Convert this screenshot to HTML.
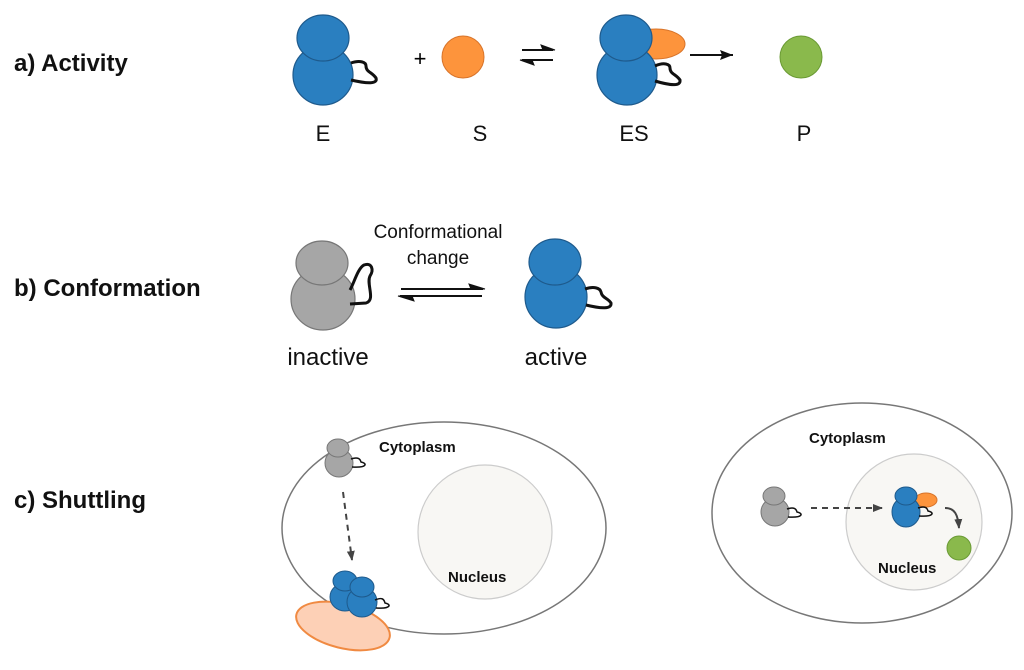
<!DOCTYPE html>
<html><head><meta charset="utf-8"><style>body{margin:0;background:#fff}svg{display:block}</style></head><body>
<svg width="1024" height="670" viewBox="0 0 1024 670" xmlns="http://www.w3.org/2000/svg" font-family="Liberation Sans, sans-serif">
<defs>
<marker id="ah" markerWidth="10" markerHeight="8" refX="9" refY="4" orient="auto" markerUnits="userSpaceOnUse"><path d="M0,0 L10,4 L0,8 z" fill="#444"/></marker>
</defs>
<g font-weight="bold" font-size="24" fill="#111">
<text x="14" y="71">a) Activity</text>
<text x="14" y="296">b) Conformation</text>
<text x="14" y="508">c) Shuttling</text>
</g>
<!-- a) -->
<g stroke="#1e5a8c" stroke-width="1.2" fill="#2a7fc0">
<ellipse cx="323" cy="75" rx="30" ry="30"/>
<ellipse cx="323" cy="38" rx="26" ry="23"/>
</g>
<path d="M351,63 C360,60 366,62 366,66 C366,72 372,72 376,78 C378,84 368,84 351,80" fill="none" stroke="#111" stroke-width="3"/>
<text x="420" y="66" font-size="22" text-anchor="middle">+</text>
<circle cx="463" cy="57" r="21" fill="#fd943c" stroke="#d8742a"/>
<path d="M522,50 L553,50 M522,60 L553,60" stroke="#111" stroke-width="2" fill="none"/>
<path d="M555,50 L541,45 L543,50 z" fill="#111" stroke="#111"/>
<path d="M520,60 L534,65 L532,60 z" fill="#111" stroke="#111"/>
<ellipse cx="656" cy="44" rx="29" ry="15" fill="#fd943c" stroke="#d8742a"/>
<g stroke="#1e5a8c" stroke-width="1.2" fill="#2a7fc0">
<ellipse cx="627" cy="75" rx="30" ry="30"/>
<ellipse cx="626" cy="38" rx="26" ry="23"/>
</g>
<path d="M655,66 C664,62 670,64 670,68 C670,74 676,74 680,80 C681,86 672,86 655,81" fill="none" stroke="#111" stroke-width="3"/>
<path d="M690,55 L733,55" stroke="#111" stroke-width="2"/><path d="M733,55 L720,50 L722,55 L720,60 z" fill="#111"/>
<circle cx="801" cy="57" r="21" fill="#8ab94c" stroke="#6a9a34"/>
<g font-size="22" text-anchor="middle" fill="#111">
<text x="323" y="141">E</text><text x="480" y="141">S</text><text x="634" y="141">ES</text><text x="804" y="141">P</text>
</g>
<!-- b) -->
<g stroke="#777" stroke-width="1.2" fill="#a6a6a6">
<ellipse cx="323" cy="299" rx="32" ry="31"/>
<ellipse cx="322" cy="263" rx="26" ry="22"/>
</g>
<path d="M350,290 C354,283 358,268 364,265 C372,262 374,270 370,276 C366,284 376,300 366,303 L350,304" fill="none" stroke="#111" stroke-width="3"/>
<g stroke="#1e5a8c" stroke-width="1.2" fill="#2a7fc0">
<ellipse cx="556" cy="297" rx="31" ry="31"/>
<ellipse cx="555" cy="262" rx="26" ry="23"/>
</g>
<path d="M585,289 C594,286 600,288 601,292 C602,298 608,298 611,303 C612,309 602,309 586,305" fill="none" stroke="#111" stroke-width="3"/>
<path d="M401,289 L483,289 M400,296 L482,296" stroke="#111" stroke-width="2" fill="none"/>
<path d="M485,289 L469,284 L471,289 z" fill="#111" stroke="#111"/>
<path d="M398,296 L414,301 L412,296 z" fill="#111" stroke="#111"/>
<g font-size="19" text-anchor="middle" fill="#111"><text x="438" y="238">Conformational</text><text x="438" y="264">change</text></g>
<g font-size="24" text-anchor="middle" fill="#111"><text x="328" y="365">inactive</text><text x="556" y="365">active</text></g>
<!-- c) left -->
<ellipse cx="444" cy="528" rx="162" ry="106" fill="#fff" stroke="#777" stroke-width="1.5"/>
<circle cx="485" cy="532" r="67" fill="#f8f7f4" stroke="#ccc" stroke-width="1.2"/>
<g stroke="#777" fill="#a6a6a6"><ellipse cx="339" cy="463" rx="14" ry="14"/><ellipse cx="338" cy="448" rx="11" ry="9"/></g>
<path d="M351,459 C357,457 360,458 361,462 C367,463 368,468 352,467" fill="none" stroke="#111" stroke-width="1.5"/>
<path d="M343,492 L352,560" stroke="#444" stroke-width="2" stroke-dasharray="6,5" marker-end="url(#ah)"/>
<ellipse cx="343" cy="626" rx="48" ry="22" transform="rotate(14 343 626)" fill="#fdd0b6" stroke="#f08a42" stroke-width="2"/>
<g stroke="#1e5a8c" fill="#2a7fc0">
<ellipse cx="345" cy="597" rx="15" ry="14"/><ellipse cx="345" cy="581" rx="12" ry="10"/>
<ellipse cx="362" cy="602" rx="15" ry="15"/><ellipse cx="362" cy="587" rx="12" ry="10"/>
</g>
<path d="M375,600 C382,597 384,599 385,603 C391,604 392,609 376,608" fill="none" stroke="#111" stroke-width="1.5"/>
<!-- c) right -->
<ellipse cx="862" cy="513" rx="150" ry="110" fill="#fff" stroke="#777" stroke-width="1.5"/>
<circle cx="914" cy="522" r="68" fill="#f8f7f4" stroke="#ccc" stroke-width="1.2"/>
<g stroke="#777" fill="#a6a6a6"><ellipse cx="775" cy="512" rx="14" ry="14"/><ellipse cx="774" cy="496" rx="11" ry="9"/></g>
<path d="M787,509 C793,507 796,508 797,512 C803,513 804,518 788,517" fill="none" stroke="#111" stroke-width="1.5"/>
<path d="M811,508 L882,508" stroke="#444" stroke-width="2" stroke-dasharray="6,5" marker-end="url(#ah)"/>
<ellipse cx="926" cy="500" rx="11" ry="7" fill="#fd943c" stroke="#d8742a"/>
<g stroke="#1e5a8c" fill="#2a7fc0"><ellipse cx="906" cy="512" rx="14" ry="15"/><ellipse cx="906" cy="496" rx="11" ry="9"/></g>
<path d="M918,508 C924,506 927,507 928,511 C934,512 935,517 919,516" fill="none" stroke="#111" stroke-width="1.5"/>
<path d="M945,508 C955,508 958,515 959,528" fill="none" stroke="#444" stroke-width="2" marker-end="url(#ah)"/>
<circle cx="959" cy="548" r="12" fill="#8ab94c" stroke="#6a9a34"/>
<g font-weight="bold" font-size="15" fill="#111">
<text x="379" y="452">Cytoplasm</text><text x="448" y="582">Nucleus</text>
<text x="809" y="443">Cytoplasm</text><text x="878" y="573">Nucleus</text>
</g>
</svg>
</body></html>
